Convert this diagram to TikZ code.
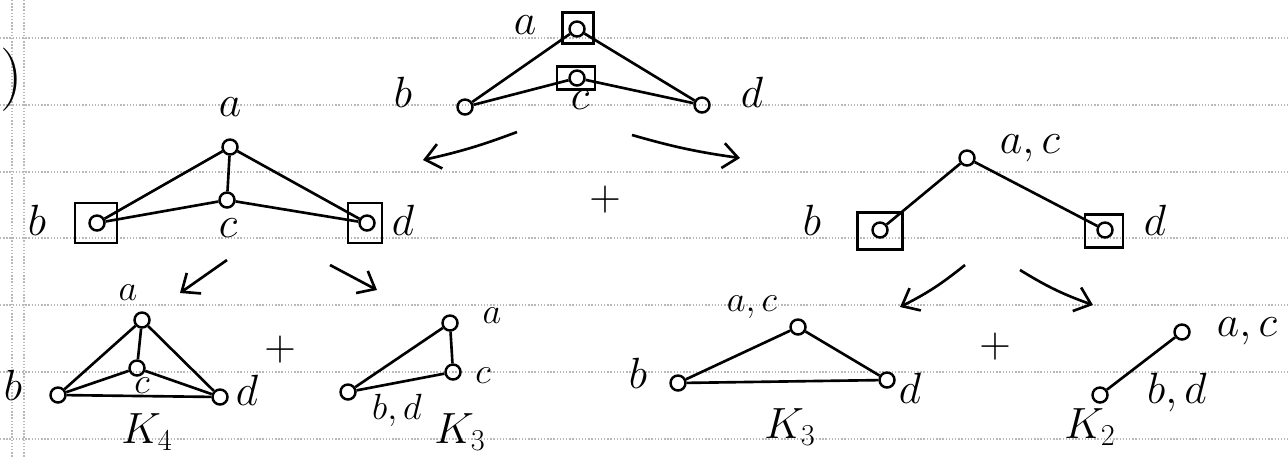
\documentclass[tikz,border=0pt]{standalone}
\usetikzlibrary{arrows.meta,positioning}
\begin{document}
\begin{tikzpicture}[x=0.02cm,y=-0.02cm,
  vtx/.style={draw, circle, line width=1.4pt, inner sep=0pt, minimum size=0.3cm},
  boxv/.style={draw, rectangle, line width=1.4pt, inner sep=0pt},
  lbl/.style={inner sep=1pt, font=\fontsize{26}{30}\selectfont},
  slbl/.style={inner sep=1pt, font=\fontsize{20}{24}\selectfont},
  edge/.style={line width=1.5pt},
  arr/.style={line width=1.5pt, -{Straight Barb[length=3mm,width=5mm]}},
  rule/.style={gray!55, line width=0.8pt, densely dotted}]
  \useasboundingbox (0,0) rectangle (1288,458);

  \foreach \y in {38,105,172,238,305,372,439}
    \draw[rule] (0,\y) -- (1288,\y);
  \foreach \x in {12,24}
    \draw[rule] (\x,0) -- (\x,458);
  \node[inner sep=0pt, anchor=west, font=\fontsize{36}{40}\selectfont] (paren) at (0,80) {)};

  \node[vtx] (ta) at (577,29) {};
  \node[vtx] (tc) at (577,78) {};
  \node[vtx] (tb) at (465,107) {};
  \node[vtx] (td) at (702,105) {};
  \node[boxv, minimum width=0.62cm, minimum height=0.62cm] (tabox) at (578,28) {};
  \node[boxv, minimum width=0.76cm, minimum height=0.46cm] (tcbox) at (576,78) {};
  \node[lbl, inner sep=0pt] (tal) at (525,25) {$a$};
  \node[lbl] (tbl) at (403,92) {$b$};
  \node[lbl] (tcl) at (580,100) {$c$};
  \node[lbl] (tdl) at (752,92) {$d$};
  \draw[edge] (ta) -- (tb);
  \draw[edge] (ta) -- (td);
  \draw[edge] (tc) -- (tb);
  \draw[edge] (tc) -- (td);

  \coordinate (t1s) at (517,132);
  \coordinate (t1e) at (423,160);
  \coordinate (t2s) at (632,135);
  \coordinate (t2e) at (740,158);
  \draw[arr] (t1s) to[bend left=4] (t1e);
  \draw[arr] (t2s) to[bend right=4] (t2e);

  \node[vtx] (la) at (230,147) {};
  \node[vtx] (lc) at (227,200) {};
  \node[vtx] (lb) at (97,223) {};
  \node[vtx] (ld) at (367,223) {};
  \node[boxv, minimum width=0.84cm, minimum height=0.8cm] (lbbox) at (96,223) {};
  \node[boxv, minimum width=0.68cm, minimum height=0.8cm] (ldbox) at (365,223) {};
  \node[lbl] (lal) at (230,107) {$a$};
  \node[lbl] (lcl) at (228,228) {$c$};
  \node[lbl] (lbl) at (37,220) {$b$};
  \node[lbl] (ldl) at (403,220) {$d$};
  \draw[edge] (la) -- (lb);
  \draw[edge] (la) -- (lc);
  \draw[edge] (la) -- (ld);
  \draw[edge] (lc) -- (lb);
  \draw[edge] (lc) -- (ld);

  \node[lbl] (plus1) at (605,200) {$+$};

  \node[vtx] (rac) at (967,158) {};
  \node[vtx] (rb) at (880,230) {};
  \node[vtx] (rd) at (1105,230) {};
  \node[boxv, minimum width=0.9cm, minimum height=0.74cm] (rbbox) at (880,231) {};
  \node[boxv, minimum width=0.76cm, minimum height=0.66cm] (rdbox) at (1104,231) {};
  \node[lbl] (racl) at (1030,148) {$a,c$};
  \node[lbl] (rbl) at (812,220) {$b$};
  \node[lbl] (rdl) at (1155,220) {$d$};
  \draw[edge] (rac) -- (rb);
  \draw[edge] (rac) -- (rd);

  \coordinate (l1s) at (227,260);
  \coordinate (l1e) at (180,293);
  \coordinate (l2s) at (330,265);
  \coordinate (l2e) at (377,290);
  \coordinate (r1s) at (965,265);
  \coordinate (r1e) at (900,307);
  \coordinate (r2s) at (1020,270);
  \coordinate (r2e) at (1093,305);
  \draw[arr] (l1s) -- (l1e);
  \draw[arr] (l2s) -- (l2e);
  \draw[arr] (r1s) to[bend left=6] (r1e);
  \draw[arr] (r2s) to[bend right=6] (r2e);

  \node[vtx] (ka) at (142,320) {};
  \node[vtx] (kc) at (137,368) {};
  \node[vtx] (kb) at (58,395) {};
  \node[vtx] (kd) at (220,397) {};
  \node[slbl] (kal) at (128,293) {$a$};
  \node[slbl] (kcl) at (142,386) {$c$};
  \node[lbl] (kbl) at (13,385) {$b$};
  \node[lbl] (kdl) at (247,390) {$d$};
  \node[lbl] (kname) at (147,432) {$K_4$};
  \draw[edge] (ka) -- (kb);
  \draw[edge] (ka) -- (kc);
  \draw[edge] (ka) -- (kd);
  \draw[edge] (kc) -- (kb);
  \draw[edge] (kc) -- (kd);
  \draw[edge] (kb) -- (kd);

  \node[lbl] (plus2) at (280,350) {$+$};

  \node[vtx] (sa) at (450,323) {};
  \node[vtx] (sc) at (453,372) {};
  \node[vtx] (sbd) at (348,392) {};
  \node[slbl] (sal) at (492,316) {$a$};
  \node[slbl] (scl) at (483,376) {$c$};
  \node[slbl] (sbdl) at (397,410) {$b,d$};
  \node[lbl] (sname) at (460,432) {$K_3$};
  \draw[edge] (sbd) -- (sa);
  \draw[edge] (sbd) -- (sc);
  \draw[edge] (sa) -- (sc);

  \node[vtx] (mac) at (798,327) {};
  \node[vtx] (mb) at (678,383) {};
  \node[vtx] (md) at (887,380) {};
  \node[slbl] (macl) at (752,307) {$a,c$};
  \node[lbl] (mbl) at (638,373) {$b$};
  \node[lbl] (mdl) at (910,388) {$d$};
  \node[lbl] (mname) at (790,427) {$K_3$};
  \draw[edge] (mac) -- (mb);
  \draw[edge] (mac) -- (md);
  \draw[edge] (mb) -- (md);

  \node[lbl] (plus3) at (995,347) {$+$};

  \node[vtx] (wac) at (1182,332) {};
  \node[vtx] (wbd) at (1100,395) {};
  \node[lbl] (wacl) at (1247,331) {$a,c$};
  \node[lbl] (wbdl) at (1177,393) {$b,d$};
  \node[lbl] (wname) at (1090,427) {$K_2$};
  \draw[edge] (wac) -- (wbd);
\end{tikzpicture}
\end{document}
